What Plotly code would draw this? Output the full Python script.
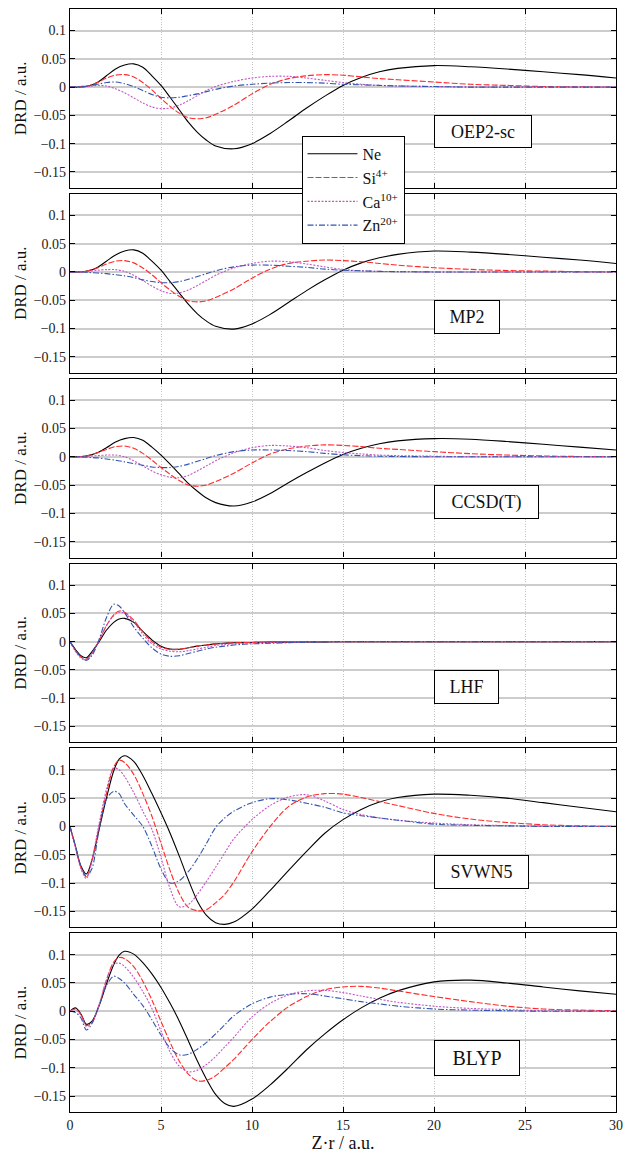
import plotly.graph_objects as go
from plotly.subplots import make_subplots

# ---------------- data ----------------
X_A = [0, 0.5, 1, 1.5, 2, 2.5, 3, 3.5, 4, 4.5, 5, 5.5, 6, 6.5, 7, 7.5, 8, 9, 10, 11,
       12, 13, 14, 15, 16, 17, 18, 20, 22, 24, 26, 28, 30]
X_B = [0, 0.3, 0.6, 0.9, 1.2, 1.6, 2, 2.4, 2.7, 3, 3.5, 4, 4.5, 5, 5.5, 6, 6.5, 7, 7.5,
       8, 8.5, 9, 10, 11, 12, 13, 14, 15, 16, 17, 18, 20, 22, 24, 26, 28, 30]

# OEP2-sc
OEP_NE = [0, 0, 0.002, 0.008, 0.02, 0.032, 0.039, 0.041, 0.035, 0.02, 0.003, -0.018, -0.04,
          -0.062, -0.08, -0.094, -0.104, -0.109, -0.1, -0.082, -0.06, -0.037, -0.016, 0.003,
          0.017, 0.027, 0.033, 0.038, 0.036, 0.032, 0.027, 0.022, 0.016]
OEP_SI = [0, 0, 0.002, 0.008, 0.016, 0.021, 0.022, 0.018, 0.008, -0.005, -0.02, -0.034, -0.046,
          -0.054, -0.056, -0.054, -0.048, -0.032, -0.012, 0.005, 0.015, 0.02, 0.022, 0.021,
          0.018, 0.015, 0.013, 0.009, 0.005, 0.003, 0.001, 0.0005, 0]
OEP_CA = [0, 0, 0.001, 0.003, 0.002, -0.003, -0.01, -0.019, -0.028, -0.035, -0.038, -0.037,
          -0.032, -0.024, -0.015, -0.006, 0.001, 0.01, 0.016, 0.019, 0.019, 0.016, 0.012,
          0.008, 0.005, 0.003, 0.002, 0.001, 0, 0, 0, 0, 0]
OEP_ZN = [0, 0.001, 0.002, 0.005, 0.008, 0.009, 0.006, 0.001, -0.006, -0.013, -0.018, -0.019,
          -0.018, -0.015, -0.012, -0.008, -0.004, 0.002, 0.005, 0.007, 0.008, 0.008, 0.007,
          0.005, 0.004, 0.003, 0.002, 0.001, 0, 0, 0, 0, 0]

# MP2
MP2_NE = [0, 0, 0.002, 0.008, 0.019, 0.03, 0.037, 0.039, 0.033, 0.019, 0.003, -0.017, -0.037,
          -0.057, -0.074, -0.087, -0.096, -0.101, -0.092, -0.075, -0.054, -0.033, -0.014,
          0.003, 0.016, 0.025, 0.031, 0.037, 0.035, 0.031, 0.026, 0.021, 0.015]
MP2_SI = [0, 0, 0.002, 0.007, 0.014, 0.019, 0.02, 0.016, 0.007, -0.005, -0.019, -0.032, -0.043,
          -0.051, -0.053, -0.051, -0.045, -0.03, -0.011, 0.005, 0.015, 0.019, 0.021, 0.02,
          0.018, 0.015, 0.012, 0.0075, 0.0045, 0.0025, 0.0015, 0.0005, 0]
MP2_CA = [0, 0, 0.001, 0.003, 0.004, 0.004, 0.001, -0.006, -0.015, -0.025, -0.033, -0.038,
          -0.037, -0.032, -0.024, -0.015, -0.006, 0.007, 0.015, 0.019, 0.018, 0.014, 0.009,
          0.0045, 0.002, 0.001, 0.0005, 0, 0, 0, 0, 0, 0]
MP2_ZN = [0, 0, -0.001, -0.002, -0.003, -0.005, -0.007, -0.01, -0.014, -0.017, -0.019, -0.019,
          -0.017, -0.013, -0.008, -0.003, 0.002, 0.009, 0.012, 0.012, 0.01, 0.008, 0.005,
          0.003, 0.002, 0.001, 0.0005, 0, 0, 0, 0, 0, 0]

# CCSD(T)
CC_NE = [0, 0, 0.002, 0.007, 0.016, 0.026, 0.032, 0.034, 0.029, 0.017, 0.003, -0.013, -0.03,
         -0.047, -0.061, -0.073, -0.081, -0.087, -0.08, -0.065, -0.046, -0.028, -0.011, 0.004,
         0.015, 0.023, 0.028, 0.032, 0.031, 0.027, 0.022, 0.017, 0.012]
CC_SI = [0, 0, 0.002, 0.007, 0.013, 0.018, 0.019, 0.015, 0.006, -0.006, -0.019, -0.031, -0.042,
         -0.05, -0.052, -0.05, -0.044, -0.029, -0.011, 0.005, 0.014, 0.019, 0.021, 0.02, 0.018,
         0.015, 0.013, 0.009, 0.0055, 0.003, 0.0015, 0.0005, 0]
CC_CA = [0, 0, 0.001, 0.002, 0.003, 0.003, 0.0, -0.007, -0.016, -0.025, -0.032, -0.036, -0.037,
         -0.033, -0.025, -0.016, -0.007, 0.007, 0.016, 0.02, 0.019, 0.016, 0.011, 0.0075,
         0.005, 0.003, 0.002, 0.001, 0, 0, 0, 0, 0]
CC_ZN = [0, 0, -0.001, -0.002, -0.004, -0.006, -0.009, -0.012, -0.015, -0.018, -0.019, -0.019,
         -0.017, -0.013, -0.008, -0.003, 0.002, 0.009, 0.012, 0.012, 0.011, 0.009, 0.006,
         0.0035, 0.002, 0.001, 0.0005, 0, 0, 0, 0, 0, 0]

# LHF
LHF_NE = [0, -0.014, -0.025, -0.0285, -0.018, 0.0, 0.02, 0.034, 0.04, 0.041, 0.034, 0.018,
          0.003, -0.008, -0.013, -0.0135, -0.011, -0.008, -0.006, -0.004, -0.003, -0.002,
          -0.0015, -0.001, -0.001, -0.0005, -0.0005, 0, 0, 0, 0, 0, 0, 0, 0, 0, 0]
LHF_SI = [0, -0.016, -0.027, -0.031, -0.021, 0.002, 0.028, 0.047, 0.054, 0.052, 0.038, 0.017,
          0.0, -0.01, -0.014, -0.0135, -0.011, -0.008, -0.006, -0.004, -0.003, -0.002,
          -0.0015, -0.001, -0.0005, 0, 0, 0, 0, 0, 0, 0, 0, 0, 0, 0, 0]
LHF_CA = [0, -0.017, -0.029, -0.033, -0.022, 0.002, 0.028, 0.046, 0.052, 0.05, 0.035, 0.013,
          -0.004, -0.013, -0.017, -0.018, -0.016, -0.013, -0.01, -0.007, -0.005, -0.004,
          -0.0025, -0.0015, -0.001, -0.0005, 0, 0, 0, 0, 0, 0, 0, 0, 0, 0, 0]
LHF_ZN = [0, -0.015, -0.027, -0.033, -0.025, 0.004, 0.042, 0.066, 0.063, 0.051, 0.026, 0.006,
          -0.011, -0.022, -0.026, -0.025, -0.021, -0.017, -0.013, -0.01, -0.008, -0.006,
          -0.004, -0.003, -0.002, -0.001, -0.0005, 0, 0, 0, 0, 0, 0, 0, 0, 0, 0]

# SVWN5
SV_NE = [0, -0.035, -0.07, -0.084, -0.06, -0.005, 0.05, 0.098, 0.119, 0.125, 0.115, 0.09,
         0.058, 0.024, -0.012, -0.052, -0.094, -0.132, -0.157, -0.17, -0.173, -0.169, -0.146,
         -0.113, -0.078, -0.044, -0.012, 0.012, 0.03, 0.043, 0.051, 0.057, 0.055, 0.05,
         0.042, 0.034, 0.026]
SV_SI = [0, -0.036, -0.072, -0.089, -0.062, 0.0, 0.058, 0.105, 0.117, 0.113, 0.092, 0.058,
         0.018, -0.03, -0.078, -0.118, -0.143, -0.149, -0.147, -0.135, -0.12, -0.098, -0.045,
         0.0, 0.035, 0.052, 0.058, 0.057, 0.051, 0.044, 0.037, 0.023, 0.013, 0.007, 0.003,
         0.001, 0]
SV_CA = [0, -0.037, -0.075, -0.092, -0.06, 0.005, 0.065, 0.103, 0.1, 0.088, 0.06, 0.027,
         -0.005, -0.055, -0.11, -0.142, -0.138, -0.12, -0.097, -0.072, -0.047, -0.022, 0.012,
         0.037, 0.052, 0.056, 0.045, 0.03, 0.021, 0.015, 0.011, 0.006, 0.003, 0.0015, 0.0005,
         0, 0]
SV_ZN = [0, -0.035, -0.07, -0.088, -0.075, -0.005, 0.048, 0.062, 0.058, 0.04, 0.02, 0.0,
         -0.035, -0.075, -0.1, -0.096, -0.08, -0.057, -0.03, -0.002, 0.015, 0.027, 0.042,
         0.049, 0.047, 0.041, 0.034, 0.024, 0.019, 0.015, 0.011, 0.004, 0.002, 0.001, 0, 0, 0]

# BLYP
BL_NE = [0, 0.006, -0.005, -0.023, -0.018, 0.01, 0.048, 0.082, 0.099, 0.106, 0.101, 0.086,
         0.066, 0.042, 0.014, -0.017, -0.052, -0.088, -0.12, -0.147, -0.163, -0.168, -0.155,
         -0.13, -0.1, -0.068, -0.04, -0.015, 0.006, 0.023, 0.036, 0.052, 0.055, 0.05, 0.043,
         0.036, 0.03]
BL_SI = [0, 0.004, -0.006, -0.025, -0.02, 0.01, 0.055, 0.087, 0.095, 0.093, 0.079, 0.053,
         0.02, -0.018, -0.055, -0.088, -0.111, -0.123, -0.122, -0.114, -0.1, -0.085, -0.05,
         -0.018, 0.008, 0.026, 0.038, 0.043, 0.044, 0.041, 0.036, 0.026, 0.017, 0.009, 0.004,
         0.002, 0.001]
BL_CA = [0, 0.003, -0.007, -0.027, -0.02, 0.012, 0.055, 0.083, 0.085, 0.079, 0.06, 0.035,
         0.005, -0.035, -0.072, -0.097, -0.107, -0.104, -0.094, -0.08, -0.063, -0.046, -0.01,
         0.014, 0.029, 0.036, 0.037, 0.033, 0.027, 0.021, 0.016, 0.009, 0.005, 0.003, 0.001,
         0.0005, 0]
BL_ZN = [0, -0.002, -0.012, -0.033, -0.022, 0.01, 0.045, 0.062, 0.058, 0.05, 0.03, 0.01,
         -0.015, -0.042, -0.065, -0.077, -0.076, -0.067, -0.055, -0.04, -0.024, -0.008, 0.013,
         0.025, 0.03, 0.031, 0.027, 0.022, 0.017, 0.013, 0.009, 0.004, 0.002, 0.001, 0, 0, 0]

SERIES_NAMES = ["Ne", "Si<sup>4+</sup>", "Ca<sup>10+</sup>", "Zn<sup>20+</sup>"]
METHODS = ["OEP2-sc", "MP2", "CCSD(T)", "LHF", "SVWN5", "BLYP"]
X_TICKS = [0, 5, 10, 15, 20, 25, 30]
Y_TICKS = [0.1, 0.05, 0, -0.05, -0.1, -0.15]
Y_LABELS = ["0.1", "0.05", "0", "\u22120.05", "\u22120.1", "\u22120.15"]

# ---------------- styles ----------------
STYLES = [
    dict(color="black", width=1.1, dash="solid"),
    dict(color="#ff2a2a", width=1.1, dash="6px,2px"),
    dict(color="#c455c4", width=1.1, dash="2px,1.5px"),
    dict(color="#3355b0", width=1.1, dash="6px,2px,1.5px,2px"),
]
PANELS = [
    (X_A, [OEP_NE, OEP_SI, OEP_CA, OEP_ZN], 96, 31, 18),
    (X_A, [MP2_NE, MP2_SI, MP2_CA, MP2_ZN], 64, 32, 18),
    (X_A, [CC_NE, CC_SI, CC_CA, CC_ZN], 103, 32, 18),
    (X_B, [LHF_NE, LHF_SI, LHF_CA, LHF_ZN], 63, 32, 18),
    (X_B, [SV_NE, SV_SI, SV_CA, SV_ZN], 93, 32, 18),
    (X_B, [BL_NE, BL_SI, BL_CA, BL_ZN], 84, 34, 20),
]

SERIF = "Times New Roman, Liberation Serif, Tinos, Times, serif"
PLOT_H = 1155 - 9 - 43

fig = make_subplots(rows=6, cols=1, shared_xaxes=True, vertical_spacing=6 / PLOT_H)

for r, (xs, ys_list, bw, bh, fs) in enumerate(PANELS, start=1):
    for name, ys, st in zip(SERIES_NAMES, ys_list, STYLES):
        fig.add_trace(
            go.Scatter(
                x=xs, y=ys, mode="lines", name=name, legendgroup=name,
                showlegend=(r == 1),
                line=dict(color=st["color"], width=st["width"], dash=st["dash"],
                          shape="spline", smoothing=0.9),
            ),
            row=r, col=1,
        )
    yref = "y" if r == 1 else f"y{r}"
    xref = "x" if r == 1 else f"x{r}"
    fig.add_annotation(
        text=METHODS[r - 1], x=20, y=-0.05, xref=xref, yref=yref,
        xanchor="left", yanchor="top", showarrow=False,
        width=bw, height=bh, align="center", valign="middle",
        bordercolor="black", borderwidth=1, borderpad=0, bgcolor="white",
        font=dict(family=SERIF, size=fs, color="#111"),
    )

fig.update_xaxes(
    range=[0, 30], tickvals=X_TICKS, ticks="inside", ticklen=5, tickwidth=1.2,
    tickcolor="black", showline=True, linecolor="black", linewidth=1.2, mirror="ticks",
    showgrid=True, gridcolor="#c4c4c4", griddash="1px,1.5px", gridwidth=1, zeroline=False,
    tickfont=dict(family=SERIF, size=14, color="#222"), automargin=False,
)
fig.update_xaxes(title_text="Z\u00b7r / a.u.", title_font=dict(family=SERIF, size=18, color="#111"),
                 title_standoff=2, row=6, col=1)
fig.update_yaxes(
    range=[-0.178, 0.138], tickvals=Y_TICKS, ticktext=Y_LABELS, ticks="inside", ticklen=5,
    tickwidth=1.2, tickcolor="black", showline=True, linecolor="black", linewidth=1.2,
    mirror="ticks", showgrid=True, gridcolor="#cccccc", gridwidth=1.5, zeroline=False,
    tickfont=dict(family=SERIF, size=14, color="#222"), automargin=False,
    title_text="DRD / a.u.", title_font=dict(family=SERIF, size=17, color="#111"),
    title_standoff=2,
)

fig.update_layout(
    width=631, height=1155,
    margin=dict(l=70, r=15, t=9, b=43, autoexpand=False),
    plot_bgcolor="white", paper_bgcolor="white",
    font=dict(family=SERIF),
    legend=dict(
        x=0.424, y=0.885, xanchor="left", yanchor="top",
        bgcolor="white", bordercolor="black", borderwidth=1,
        font=dict(family=SERIF, size=16, color="#111"), traceorder="normal",
        itemwidth=50, tracegroupgap=0,
    ),
)

fig.write_html(
    "out.html",
    config={"displayModeBar": False},
    post_script="document.body.style.margin='0';document.body.style.padding='0';"
                "document.documentElement.style.overflow='hidden';",
)
